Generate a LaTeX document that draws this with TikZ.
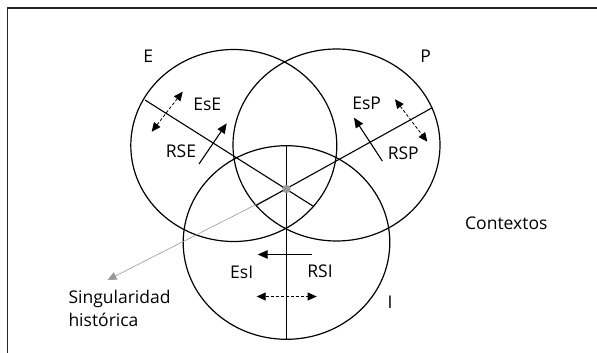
\documentclass[tikz,border=0pt]{standalone}
\usepackage{fontspec}
\setmainfont{Open Sans}
\usetikzlibrary{arrows.meta}
\definecolor{dotgray}{HTML}{999999}
\begin{document}
\begin{tikzpicture}[x=1pt,y=-1pt,
  lbl/.style={font=\fontsize{17.5}{20}\selectfont, inner sep=0pt, anchor=base},
  circ/.style={line width=1.2pt},
  chord/.style={line width=1.1pt},
  solidarrow/.style={line width=1.1pt, -{Triangle[length=10pt,width=8.5pt]}},
  dasharrow/.style={line width=0.8pt, dash pattern=on 3pt off 2pt,
    {Triangle[length=9pt,width=8pt]}-{Triangle[length=9pt,width=8pt]}},
  grayarrow/.style={line width=0.6pt, dotgray, -{Triangle[length=9pt,width=8pt]}}]
\useasboundingbox (0,0) rectangle (597,353);
% frame
\draw[line width=1.4pt, black!85] (7.5,353) -- (7.5,8) -- (597,8);
% circles
\draw[circ] (233.8,145.5) ellipse [x radius=103, y radius=96];
\draw[circ] (336.5,145) ellipse [x radius=103.5, y radius=96];
\draw[circ] (286.5,242.5) ellipse [x radius=103.3, y radius=96.8];
% chords
\coordinate (D) at (286.5,189);
\coordinate (e1) at (145,100);
\coordinate (e2) at (314,206.7);
\coordinate (p1) at (432.3,107.7);
\coordinate (p2) at (256,205.5);
\coordinate (i1) at (286.5,145.7);
\coordinate (i2) at (286.5,339.3);
\coordinate (S) at (107.5,280);
\draw[grayarrow] (D) -- (S);
\draw[chord] (e1) -- (e2);
\draw[chord] (p1) -- (p2);
\draw[chord] (i1) -- (i2);
\fill[dotgray] (D) circle[radius=4.2];
% arrows
\coordinate (rseT) at (199,164);
\coordinate (rseH) at (226.7,123.3);
\coordinate (eseA) at (151.7,131.7);
\coordinate (eseB) at (182.7,91.7);
\coordinate (rspT) at (382.3,161);
\coordinate (rspH) at (354,117.7);
\coordinate (espA) at (395,99.3);
\coordinate (espB) at (427.3,141.7);
\coordinate (rsiT) at (311.7,254.5);
\coordinate (rsiH) at (257.7,254.5);
\coordinate (esiA) at (256.7,296.5);
\coordinate (esiB) at (316.7,296.5);
\draw[solidarrow] (rseT) -- (rseH);
\draw[dasharrow] (eseA) -- (eseB);
\draw[solidarrow] (rspT) -- (rspH);
\draw[dasharrow] (espA) -- (espB);
\draw[solidarrow] (rsiT) -- (rsiH);
\draw[dasharrow] (esiA) -- (esiB);
% labels
\node[lbl] (lE) at (148.3,63) {E};
\node[lbl] (lP) at (425.7,63) {P};
\node[lbl] (lI) at (390,308) {I};
\node[lbl] (lEsE) at (207.3,110.2) {EsE};
\node[lbl] (lRSE) at (181,157) {RSE};
\node[lbl] (lEsP) at (366.7,109.5) {EsP};
\node[lbl] (lRSP) at (403.3,159) {RSP};
\node[lbl] (lEsI) at (241.7,278) {EsI};
\node[lbl] (lRSI) at (320,277) {RSI};
\node[lbl] (lCtx) at (506.3,229) {Contextos};
\node[lbl, anchor=base west] (lSing) at (68.3,303) {Singularidad};
\node[lbl, anchor=base west] (lHist) at (68.3,326) {histórica};
\end{tikzpicture}
\end{document}
